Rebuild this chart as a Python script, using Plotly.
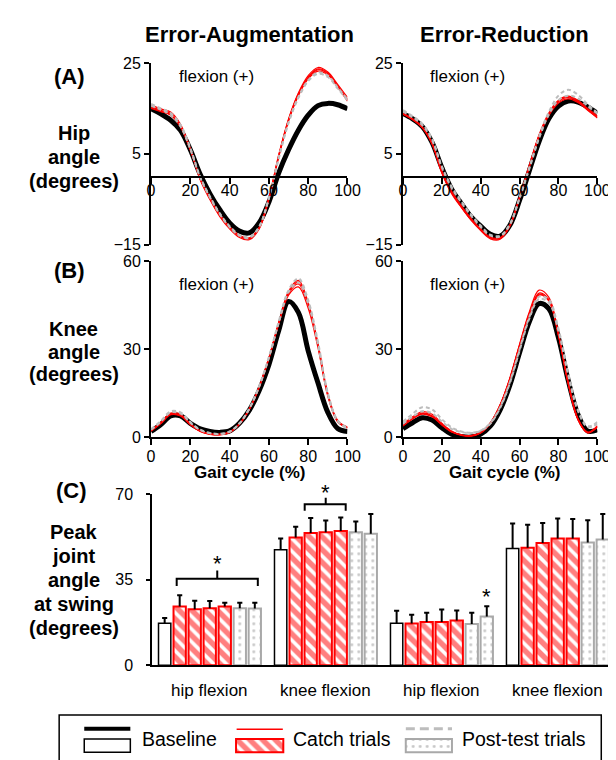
import plotly.graph_objects as go

# ---------------- data ----------------
gait = list(range(0, 101, 5))  # % gait cycle

# Hip angle, Error-Augmentation
hip_ea_base = [14.9, 13.8, 12.4, 10.2, 5.9, 0.5, -3.8, -7.3, -10.2, -12.0, -12.4, -10.2, -5.6, 0.8, 5.9, 10.2, 13.5, 15.6, 16.1, 15.8, 14.9]
hip_ea_catch = [
    [15.4, 14.6, 13.9, 11.2, 6.0, -0.5, -4.9, -8.6, -11.2, -13.1, -13.7, -11.4, -4.8, 4.6, 12.5, 18.2, 21.9, 23.7, 22.8, 20.0, 17.0],
    [15.0, 14.3, 13.6, 10.9, 5.8, -0.3, -4.6, -8.3, -11.0, -12.9, -13.5, -11.2, -4.6, 4.8, 12.7, 18.4, 22.2, 24.0, 23.0, 20.3, 17.4],
    [15.8, 14.9, 14.2, 11.5, 6.2, -0.7, -5.1, -8.8, -11.5, -13.4, -13.9, -11.6, -5.0, 4.3, 12.2, 17.8, 21.5, 23.2, 22.4, 19.7, 16.6],
    [15.2, 14.4, 13.5, 11.0, 5.9, -0.4, -4.8, -8.5, -11.1, -13.0, -13.6, -11.3, -4.7, 4.5, 12.4, 18.0, 21.7, 23.5, 22.6, 19.8, 16.9],
]
hip_ea_post = [
    [16.0, 15.0, 14.0, 11.4, 6.3, 0.0, -4.4, -8.1, -10.9, -12.8, -13.3, -11.0, -4.6, 4.2, 12.0, 17.5, 21.2, 22.9, 22.2, 19.6, 17.0],
    [15.6, 14.7, 13.6, 11.0, 6.0, -0.2, -4.6, -8.3, -11.1, -13.0, -13.5, -11.2, -4.8, 4.0, 11.8, 17.3, 21.0, 22.6, 21.9, 19.4, 16.8],
]

# Hip angle, Error-Reduction
hip_er_base = [13.9, 12.7, 11.0, 7.5, 2.0, -2.7, -5.9, -8.8, -10.9, -12.7, -13.1, -10.7, -5.2, 1.3, 7.7, 12.7, 15.5, 16.6, 16.4, 15.3, 13.9]
hip_er_catch = [
    [13.8, 12.6, 10.8, 7.2, 1.0, -3.5, -6.6, -9.4, -11.7, -13.5, -13.6, -10.8, -4.6, 2.3, 9.0, 13.7, 16.5, 17.4, 16.5, 14.8, 13.2],
    [13.9, 12.7, 10.9, 7.4, 1.3, -3.2, -6.4, -9.2, -11.5, -13.3, -13.4, -10.6, -4.4, 2.5, 9.2, 14.0, 16.8, 17.7, 16.8, 15.0, 13.4],
    [13.7, 12.5, 10.7, 7.1, 0.8, -3.7, -6.8, -9.6, -11.9, -13.7, -13.8, -11.0, -4.8, 2.0, 8.7, 13.4, 16.2, 17.1, 16.3, 14.6, 13.0],
    [13.8, 12.6, 10.8, 7.3, 1.1, -3.4, -6.5, -9.3, -11.6, -13.4, -13.5, -10.7, -4.5, 2.2, 8.9, 13.6, 16.6, 17.6, 16.6, 14.7, 12.9],
]
hip_er_post = [
    [14.6, 13.3, 11.6, 8.3, 2.3, -2.2, -5.4, -8.3, -10.8, -12.8, -13.0, -10.4, -4.6, 2.0, 8.8, 14.2, 17.8, 19.1, 18.0, 15.9, 14.0],
    [14.3, 13.0, 11.3, 8.0, 2.0, -2.5, -5.7, -8.6, -11.1, -13.0, -13.2, -10.6, -4.8, 1.7, 8.4, 13.6, 16.8, 17.8, 17.2, 15.5, 13.8],
]

# Knee angle, Error-Augmentation
knee_ea_base = [2.0, 4.4, 7.3, 7.3, 4.8, 2.9, 2.0, 1.7, 2.2, 4.8, 9.2, 15.9, 24.8, 36.4, 46.3, 42.6, 29.5, 18.5, 8.5, 3.0, 2.0]
knee_ea_catch = [
    [2.3, 5.0, 8.0, 7.6, 4.5, 2.2, 1.2, 1.0, 1.8, 4.6, 9.6, 17.2, 27.2, 39.2, 49.8, 53.5, 46.0, 32.0, 15.0, 5.8, 3.5],
    [2.2, 4.8, 7.8, 7.4, 4.4, 2.1, 1.1, 0.9, 1.7, 4.5, 9.5, 17.0, 27.0, 39.0, 49.5, 53.0, 45.5, 31.5, 14.6, 5.5, 3.3],
    [2.5, 5.2, 8.3, 7.9, 4.7, 2.3, 1.3, 1.1, 1.9, 4.7, 9.7, 17.3, 27.1, 38.6, 48.5, 51.3, 44.0, 30.5, 14.0, 5.3, 3.2],
    [2.1, 4.7, 7.7, 7.3, 4.3, 2.0, 1.0, 0.8, 1.6, 4.4, 9.4, 16.9, 26.8, 38.8, 49.0, 52.3, 45.2, 31.2, 14.4, 5.4, 3.4],
]
knee_ea_post = [
    [2.8, 5.6, 8.9, 8.5, 5.2, 2.6, 1.5, 1.2, 2.0, 4.8, 9.8, 17.4, 27.4, 39.5, 50.2, 54.2, 46.8, 32.5, 15.2, 5.8, 3.2],
    [2.6, 5.3, 8.5, 8.1, 5.0, 2.5, 1.4, 1.1, 1.9, 4.7, 9.7, 17.2, 27.2, 39.0, 49.5, 52.8, 45.6, 31.6, 14.6, 5.5, 3.0],
]

# Knee angle, Error-Reduction
knee_er_base = [3.0, 5.0, 6.7, 5.9, 3.3, 1.1, 0.3, 0.1, 1.1, 3.9, 9.4, 17.8, 28.9, 39.4, 45.6, 43.9, 33.9, 19.4, 7.8, 2.2, 2.6]
knee_er_catch = [
    [4.2, 6.6, 8.3, 7.4, 4.5, 2.0, 0.8, 0.5, 1.6, 4.9, 11.0, 20.0, 31.5, 42.3, 49.2, 47.0, 35.0, 18.5, 6.2, 1.6, 4.0],
    [3.9, 6.3, 7.9, 7.0, 4.2, 1.8, 0.7, 0.4, 1.5, 4.7, 10.7, 19.6, 31.0, 41.8, 48.5, 46.5, 34.6, 18.2, 6.0, 1.5, 3.6],
    [4.5, 7.0, 8.8, 7.9, 4.8, 2.2, 0.9, 0.6, 1.7, 5.0, 11.2, 20.3, 31.8, 42.8, 50.2, 47.8, 35.5, 18.8, 6.4, 1.8, 3.8],
    [4.0, 6.4, 8.1, 7.2, 4.4, 1.9, 0.8, 0.5, 1.6, 4.8, 10.9, 19.8, 31.2, 42.0, 48.8, 46.8, 34.8, 18.4, 6.1, 1.6, 3.4],
]
knee_er_post = [
    [5.3, 8.0, 10.3, 9.5, 6.2, 3.4, 2.0, 1.6, 2.3, 4.9, 10.3, 18.8, 30.0, 41.0, 48.0, 47.0, 37.0, 22.0, 9.5, 3.8, 5.2],
    [4.6, 7.0, 8.9, 8.2, 5.4, 2.9, 1.8, 1.5, 2.2, 4.7, 10.0, 18.5, 29.6, 40.5, 47.2, 46.0, 36.2, 21.2, 9.0, 3.5, 4.6],
]

# Peak joint angle at swing (bars): groups = EA hip, EA knee, ER hip, ER knee
bar_groups = ["hip flexion", "knee flexion", "hip flexion", "knee flexion"]
bar_series = ["Baseline", "Catch 1", "Catch 2", "Catch 3", "Catch 4", "Post-test 1", "Post-test 2"]
bar_kind = ["baseline", "catch", "catch", "catch", "catch", "post", "post"]
peak_mean = [
    [17.2, 47.3, 17.2, 47.8],
    [24.0, 52.3, 17.1, 48.1],
    [22.9, 54.2, 17.7, 50.1],
    [23.3, 54.5, 17.7, 51.9],
    [24.0, 55.0, 18.3, 51.9],
    [23.3, 54.5, 16.9, 50.3],
    [23.2, 53.9, 19.9, 51.5],
]
peak_sd = [
    [2.1, 4.6, 5.1, 10.3],
    [4.7, 4.4, 3.6, 9.4],
    [3.5, 6.1, 3.8, 8.2],
    [3.0, 4.8, 5.1, 8.2],
    [1.6, 5.5, 4.1, 8.0],
    [2.3, 4.4, 4.6, 9.1],
    [2.4, 8.1, 4.2, 10.5],
]

hip_ticks = [-15, 5, 25]
knee_ticks = [0, 30, 60]
bar_ticks = [0, 35, 70]
gait_ticks = [0, 20, 40, 60, 80, 100]

# ---------------- layout helpers ----------------
W, H = 616, 760
FONT = "Liberation Sans, Arial, sans-serif"
RED = "#ff0000"
GRAY = "#bdbdbd"
GRAY_EDGE = "#a9a9a9"


def X(px):
    return px / W


def Y(py):
    return 1 - py / H


HIP_RANGE = [-15, 25]
KNEE_RANGE = [0, 60]
HIP_PX = (48, 234)
KNEE_PX = (251, 431)
LEFT_PX = (143, 345)
RIGHT_PX = (402, 602)
BAR_PX_Y = (489.3, 664)
GROUP_PITCH = 7.72
BAR_W = 0.82

fig = go.Figure()

base_axis = dict(showline=True, linecolor="black", linewidth=2, ticks="outside",
                 tickwidth=2, tickcolor="black", showgrid=False, zeroline=False,
                 tickfont=dict(family=FONT, size=16, color="black"))

hip_zero_px = HIP_PX[0] + (HIP_RANGE[1] - 0) / (HIP_RANGE[1] - HIP_RANGE[0]) * (HIP_PX[1] - HIP_PX[0])

layout_axes = {}
for i, (xpx, kind) in enumerate([(LEFT_PX, "hip"), (RIGHT_PX, "hip"), (LEFT_PX, "knee"), (RIGHT_PX, "knee")], start=1):
    xa = "xaxis" if i == 1 else f"xaxis{i}"
    ya = "yaxis" if i == 1 else f"yaxis{i}"
    yref = "y" if i == 1 else f"y{i}"
    xref = "x" if i == 1 else f"x{i}"
    if kind == "hip":
        ydom = [Y(HIP_PX[1]), Y(HIP_PX[0])]
        layout_axes[xa] = dict(base_axis, domain=[X(xpx[0]), X(xpx[1])], range=[0, 100],
                               tickvals=gait_ticks, ticklen=6, anchor="free",
                               position=Y(hip_zero_px), ticklabelstandoff=-7)
        layout_axes[ya] = dict(base_axis, domain=ydom, range=HIP_RANGE, tickvals=hip_ticks,
                               ticklen=5, anchor=xref)
    else:
        ydom = [Y(KNEE_PX[1]), Y(KNEE_PX[0])]
        layout_axes[xa] = dict(base_axis, domain=[X(xpx[0]), X(xpx[1])], range=[0, 100],
                               tickvals=gait_ticks, ticklen=6, anchor=yref, ticklabelstandoff=-3)
        layout_axes[ya] = dict(base_axis, domain=ydom, range=KNEE_RANGE, tickvals=knee_ticks,
                               ticklen=5, anchor=xref)

# bar chart axes
bar_x0 = -(157 - 144.3) / 15.45
bar_x1 = (616 - 157) / 15.45
layout_axes["xaxis5"] = dict(showline=True, linecolor="black", linewidth=2, ticks="",
                             showticklabels=False, showgrid=False, zeroline=False,
                             domain=[X(144.3), 1], range=[bar_x0, bar_x1], anchor="y5")
layout_axes["yaxis5"] = dict(base_axis, domain=[Y(BAR_PX_Y[1]), Y(BAR_PX_Y[0])], range=[0, 70],
                             tickvals=bar_ticks, ticklen=4, anchor="x5", ticklabelstandoff=10)
# legend axes (pixel-like coordinates)
layout_axes["xaxis6"] = dict(visible=False, domain=[X(49), X(606)], range=[49, 606], anchor="y6")
layout_axes["yaxis6"] = dict(visible=False, domain=[0, Y(715)], range=[760, 715], anchor="x6")

# ---------------- curves ----------------
panels = [
    ("x", "y", hip_ea_base, hip_ea_catch, hip_ea_post),
    ("x2", "y2", hip_er_base, hip_er_catch, hip_er_post),
    ("x3", "y3", knee_ea_base, knee_ea_catch, knee_ea_post),
    ("x4", "y4", knee_er_base, knee_er_catch, knee_er_post),
]
for xa, ya, base, catch, post in panels:
    fig.add_trace(go.Scatter(x=gait, y=base, xaxis=xa, yaxis=ya, mode="lines",
                             line=dict(color="black", width=5, shape="spline"), showlegend=False))
    for c in catch:
        fig.add_trace(go.Scatter(x=gait, y=c, xaxis=xa, yaxis=ya, mode="lines",
                                 line=dict(color=RED, width=1.2, shape="spline"), showlegend=False))
    for p in post:
        fig.add_trace(go.Scatter(x=gait, y=p, xaxis=xa, yaxis=ya, mode="lines",
                                 line=dict(color=GRAY, width=2, shape="spline", dash="4px,3px"),
                                 showlegend=False))

# ---------------- bars ----------------
styles = {
    "baseline": dict(color="white", line=dict(color="black", width=1.5)),
    "catch": dict(color="white", line=dict(color=RED, width=2),
                  pattern=dict(shape="\\", fgcolor=RED, bgcolor="white", size=9, solidity=0.6)),
    "post": dict(color="white", line=dict(color=GRAY_EDGE, width=2),
                 pattern=dict(shape=".", fgcolor="#8f8f8f", bgcolor="white", size=7, solidity=0.14)),
}
err_x, err_y = [], []
cap = 0.17
for s, name in enumerate(bar_series):
    xs = [g * GROUP_PITCH + s for g in range(len(bar_groups))]
    fig.add_trace(go.Bar(x=xs, y=peak_mean[s], width=BAR_W, xaxis="x5", yaxis="y5",
                         marker=styles[bar_kind[s]], name=name, showlegend=False))
    for xv, m, e in zip(xs, peak_mean[s], peak_sd[s]):
        err_x += [xv, xv, None, xv - cap, xv + cap, None]
        err_y += [m, m + e, None, m + e, m + e, None]
fig.add_trace(go.Scatter(x=err_x, y=err_y, xaxis="x5", yaxis="y5", mode="lines",
                         line=dict(color="black", width=2), showlegend=False))

# significance brackets
brackets = [
    # (x_left, x_right, x_mid, y_end, y_bar, y_top)
    (0.8, 6.2, 3.5, 32.4, 35.4, 38.8),
    (GROUP_PITCH + 1.6, GROUP_PITCH + 4.33, GROUP_PITCH + 3.0, 63.3, 65.95, 68.6),
]
bx, by = [], []
for xl, xr, xm, ye, yb, yt in brackets:
    bx += [xl, xl, xr, xr, None, xm, xm, None]
    by += [ye, yb, yb, ye, None, yb, yt, None]
fig.add_trace(go.Scatter(x=bx, y=by, xaxis="x5", yaxis="y5", mode="lines",
                         line=dict(color="black", width=2), showlegend=False))

# ---------------- legend swatches ----------------
fig.add_trace(go.Scatter(x=[74.3, 121.7], y=[729, 729], xaxis="x6", yaxis="y6", mode="lines",
                         line=dict(color="black", width=4), showlegend=False))
fig.add_trace(go.Scatter(x=[231, 278.5], y=[729.5, 729.5], xaxis="x6", yaxis="y6", mode="lines",
                         line=dict(color=RED, width=1.5), showlegend=False))
fig.add_trace(go.Scatter(x=[405, 452.5], y=[729, 729], xaxis="x6", yaxis="y6", mode="lines",
                         line=dict(color=GRAY, width=3, dash="9px,5px"), showlegend=False))
for xc, wd, kind in [(98, 47.4, "baseline"), (254.7, 48.6, "catch"), (428.7, 47.5, "post")]:
    fig.add_trace(go.Bar(x=[xc], y=[13.5], base=[739.5], width=wd, xaxis="x6", yaxis="y6",
                         marker=styles[kind], showlegend=False))

# ---------------- annotations ----------------
ann = []


def text(x, y, s, size=17, bold=False, xanchor="center", xref="paper", yref="paper", yshift=0):
    ann.append(dict(x=x, y=y, xref=xref, yref=yref, text=(f"<b>{s}</b>" if bold else s),
                    showarrow=False, xanchor=xanchor, yanchor="middle", yshift=yshift,
                    font=dict(family=FONT, size=size, color="black")))


text(X(244.6), Y(19), "Error-Augmentation", 22, True)
text(X(506), Y(19), "Error-Reduction", 22, True)
text(X(59), Y(62), "(A)", 22, True)
text(X(59), Y(260), "(B)", 22, True)
text(X(61.5), Y(485), "(C)", 22, True)
for s, py in zip(["Hip", "angle", "(degrees)"], [120, 144, 168.3]):
    text(X(63.5), Y(py), s, 20, True)
for s, py in zip(["Knee", "angle", "(degrees)"], [320, 343.3, 366.7]):
    text(X(63.5), Y(py), s, 20, True)
for s, py in zip(["Peak", "joint", "angle", "at swing", "(degrees)"], [528, 552.7, 577, 601.7, 625.7]):
    text(X(63.5), Y(py), s, 20, True)
for xpx in (210.8, 468):
    text(X(xpx), Y(62.3), "flexion (+)", 17)
    text(X(xpx), Y(274.3), "flexion (+)", 17)
text(X(245), Y(467), "Gait cycle (%)", 17, True)
text(X(507), Y(467), "Gait cycle (%)", 17, True)
for g, lab in enumerate(bar_groups):
    text(g * GROUP_PITCH + 3, Y(690), lab, 17, xref="x5")
# stars
text(3.5, 38.8, "*", 22, xref="x5", yref="y5", yshift=7)
text(GROUP_PITCH + 3.0, 68.6, "*", 22, xref="x5", yref="y5", yshift=5)
text(2 * GROUP_PITCH + 6, peak_mean[6][2] + peak_sd[6][2], "*", 22, xref="x5", yref="y5", yshift=10)
# legend labels
text(131.5, 739.3, "Baseline", 19.5, xanchor="left", xref="x6", yref="y6")
text(287, 739.3, "Catch trials", 19.5, xanchor="left", xref="x6", yref="y6")
text(461, 739.3, "Post-test trials", 19.5, xanchor="left", xref="x6", yref="y6")

shapes = [dict(type="rect", xref="paper", yref="paper", x0=X(48.5), x1=X(606),
               y0=Y(715), y1=Y(770), line=dict(color="black", width=1.5), fillcolor="rgba(0,0,0,0)")]

fig.update_layout(width=W, height=H, margin=dict(l=0, r=0, t=0, b=0),
                  paper_bgcolor="white", plot_bgcolor="rgba(0,0,0,0)",
                  barmode="overlay", showlegend=False, annotations=ann, shapes=shapes,
                  font=dict(family=FONT, color="black"), **layout_axes)

fig.write_html("out.html")
